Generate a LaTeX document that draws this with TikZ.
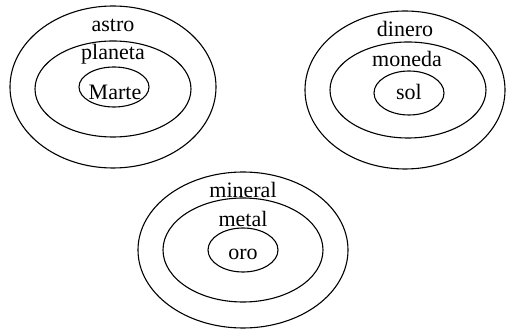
\documentclass[tikz,border=0pt]{standalone}
\usepackage{fontspec}
\setmainfont{Liberation Serif}
\usetikzlibrary{shapes.geometric}
\tikzset{
  ring/.style={draw=black, line width=1.1pt, ellipse, inner sep=0pt},
  lbl/.style={anchor=base, inner sep=0pt, font=\fontsize{22}{22}\selectfont}
}
\begin{document}
\begin{tikzpicture}[x=1pt,y=1pt]
\useasboundingbox (0,0) rectangle (506,329);
% group 1 (image y -> 329 - y)
\node[ring, minimum width=206, minimum height=162] (o1) at (113,242) {};
\node[ring, minimum width=156, minimum height=96] (m1) at (113,240) {};
\node[ring, minimum width=70, minimum height=40] (i1) at (114,242) {};
\node[lbl] (t1a) at (113,297) {astro};
\node[lbl] (t1b) at (113,269) {planeta};
\node[lbl] (t1c) at (115,229) {Marte};
% group 2
\node[ring, minimum width=200, minimum height=158] (o2) at (405,239) {};
\node[ring, minimum width=156, minimum height=96] (m2) at (408,239) {};
\node[ring, minimum width=70, minimum height=44] (i2) at (409,236) {};
\node[lbl] (t2a) at (405,292) {dinero};
\node[lbl] (t2b) at (407,262) {moneda};
\node[lbl] (t2c) at (409,229) {sol};
% group 3
\node[ring, minimum width=210, minimum height=156] (o3) at (243,79) {};
\node[ring, minimum width=160, minimum height=104] (m3) at (243,79) {};
\node[ring, minimum width=70, minimum height=44] (i3) at (243,79) {};
\node[lbl] (t3a) at (243,131) {mineral};
\node[lbl] (t3b) at (243,102) {metal};
\node[lbl] (t3c) at (243,69) {oro};
\end{tikzpicture}
\end{document}
